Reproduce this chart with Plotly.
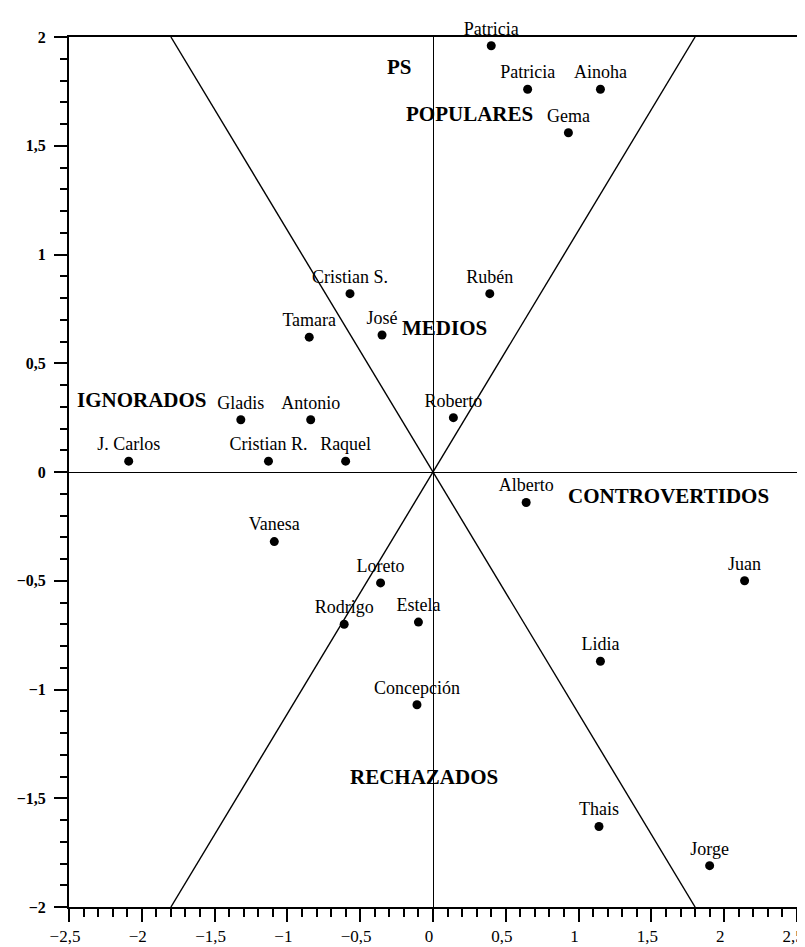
import plotly.graph_objects as go

# ---- data ----
names = ["Patricia", "Patricia", "Ainoha", "Gema", "Cristian S.", "Rubén", "Tamara", "José",
         "Roberto", "Gladis", "Antonio", "J. Carlos", "Cristian R.", "Raquel", "Alberto",
         "Vanesa", "Juan", "Loreto", "Rodrigo", "Estela", "Lidia", "Concepción", "Thais", "Jorge"]
x_vals = [0.40, 0.65, 1.15, 0.93, -0.57, 0.39, -0.85, -0.35,
          0.14, -1.32, -0.84, -2.09, -1.13, -0.60, 0.64,
          -1.09, 2.14, -0.36, -0.61, -0.10, 1.15, -0.11, 1.14, 1.90]
y_vals = [1.96, 1.76, 1.76, 1.56, 0.82, 0.82, 0.62, 0.63,
          0.25, 0.24, 0.24, 0.05, 0.05, 0.05, -0.14,
          -0.32, -0.50, -0.51, -0.70, -0.69, -0.87, -1.07, -1.63, -1.81]

# boundary lines through the origin
boundary1_x = [-1.8, 1.8]
boundary1_y = [-2.0, 2.0]
boundary2_x = [-1.8, 1.8]
boundary2_y = [2.0, -2.0]

group_labels = ["PS", "POPULARES", "MEDIOS", "IGNORADOS", "CONTROVERTIDOS", "RECHAZADOS"]

x_tickvals = [-2.5, -2, -1.5, -1, -0.5, 0, 0.5, 1, 1.5, 2, 2.5]
y_tickvals = [-2, -1.5, -1, -0.5, 0, 0.5, 1, 1.5, 2]

# ---- figure ----
fig = go.Figure()
line_style = dict(color="black", width=1.4)
fig.add_trace(go.Scatter(x=boundary1_x, y=boundary1_y, mode="lines", line=line_style,
                         hoverinfo="skip", showlegend=False))
fig.add_trace(go.Scatter(x=boundary2_x, y=boundary2_y, mode="lines", line=line_style,
                         hoverinfo="skip", showlegend=False))
fig.add_trace(go.Scatter(
    x=x_vals, y=y_vals, mode="markers+text", text=names, textposition="top center",
    marker=dict(color="black", size=9),
    textfont=dict(family="Liberation Serif", size=18, color="black"),
    cliponaxis=False, showlegend=False))

label_pos = {
    "PS": (-0.23, 1.86),
    "POPULARES": (0.25, 1.646),
    "MEDIOS": (0.08, 0.664),
    "IGNORADOS": (-2.0, 0.331),
    "CONTROVERTIDOS": (1.616, -0.112),
    "RECHAZADOS": (-0.06, -1.40),
}
for lab in group_labels:
    lx, ly = label_pos[lab]
    fig.add_annotation(x=lx, y=ly, text="<b>" + lab + "</b>", showarrow=False,
                       font=dict(family="Liberation Serif", size=21, color="black"),
                       xanchor="center", yanchor="middle")

xtickfont = dict(family="Liberation Serif", size=17, color="black")
ytickfont = dict(family="Liberation Serif", size=16, color="black", weight="bold")
fig.update_xaxes(range=[-2.5, 2.5], tickvals=x_tickvals, tickformat=".1~f",
                 showgrid=False, zeroline=True, zerolinecolor="black", zerolinewidth=1.4,
                 showline=True, linecolor="black", linewidth=2, mirror=True,
                 ticks="outside", ticklen=13, tickwidth=1.5, tickcolor="black",
                 minor=dict(dtick=0.1, ticks="outside", ticklen=8, tickwidth=1.5, tickcolor="black"),
                 tickfont=xtickfont, ticklabelshift=-4, ticklabeloverflow="allow")
fig.update_yaxes(range=[-2, 2], tickvals=y_tickvals, tickformat=".1~f",
                 showgrid=False, zeroline=True, zerolinecolor="black", zerolinewidth=1.4,
                 showline=True, linecolor="black", linewidth=2, mirror=True,
                 ticks="outside", ticklen=13, tickwidth=1.5, tickcolor="black",
                 minor=dict(dtick=0.1, ticks="outside", ticklen=7, tickwidth=1.5, tickcolor="black"),
                 tickfont=ytickfont, ticklabelstandoff=5)
fig.update_layout(width=805, height=947, separators=",.",
                  margin=dict(l=61, r=9, t=29, b=41),
                  plot_bgcolor="white", paper_bgcolor="white")
fig.write_html("out.html")
